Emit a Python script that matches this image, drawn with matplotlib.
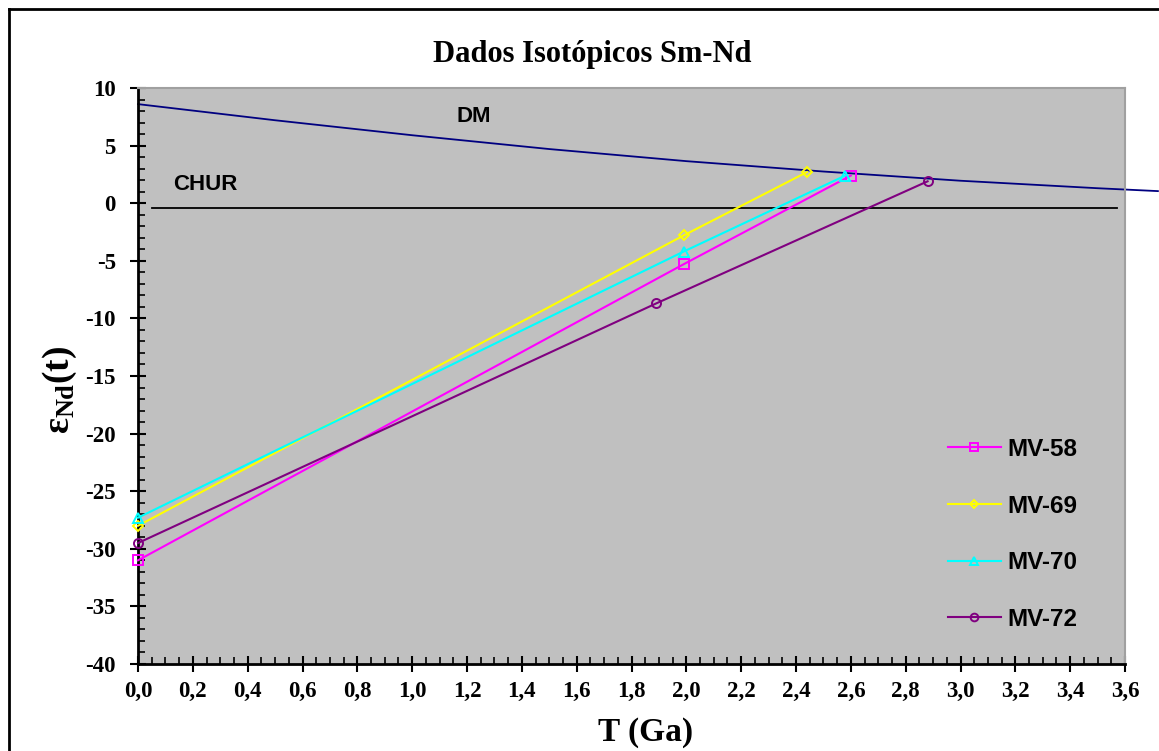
import matplotlib
matplotlib.use("Agg")
import matplotlib.pyplot as plt
from matplotlib.ticker import FixedLocator, MultipleLocator, FixedFormatter
from matplotlib.lines import Line2D

# ---- data ----
series_names = ["MV-58", "MV-69", "MV-70", "MV-72"]
mv58_t = [0.0, 1.99, 2.60]
mv58_e = [-31.0, -5.3, 2.4]
mv69_t = [0.0, 1.99, 2.44]
mv69_e = [-28.0, -2.8, 2.7]
mv70_t = [0.0, 1.99, 2.58]
mv70_e = [-27.3, -4.2, 2.4]
mv72_t = [0.0, 1.89, 2.88]
mv72_e = [-29.5, -8.7, 1.9]

dm_t = [0.0, 0.5, 1.0, 1.5, 2.0, 2.5, 3.0, 3.5, 3.72]
dm_e = [8.6, 7.2, 5.9, 4.7, 3.65, 2.75, 1.95, 1.3, 1.05]

chur_t = [0.05, 3.57]
chur_e = [-0.4, -0.4]

x_ticks = [0.0, 0.2, 0.4, 0.6, 0.8, 1.0, 1.2, 1.4, 1.6, 1.8, 2.0, 2.2, 2.4, 2.6, 2.8, 3.0, 3.2, 3.4, 3.6]
x_labels = ["0,0", "0,2", "0,4", "0,6", "0,8", "1,0", "1,2", "1,4", "1,6", "1,8",
            "2,0", "2,2", "2,4", "2,6", "2,8", "3,0", "3,2", "3,4", "3,6"]
y_ticks = [10, 5, 0, -5, -10, -15, -20, -25, -30, -35, -40]
y_labels = ["10", "5", "0", "-5", "-10", "-15", "-20", "-25", "-30", "-35", "-40"]

title = "Dados Isotópicos Sm-Nd"
xlabel = "T (Ga)"

# ---- styling ----
plt.rcParams['mathtext.fontset'] = 'custom'
plt.rcParams['mathtext.rm'] = 'Liberation Serif:bold'
plt.rcParams['mathtext.it'] = 'Liberation Serif:bold'
plt.rcParams['mathtext.bf'] = 'Liberation Serif:bold'
serif = 'Liberation Serif'
sans = 'Liberation Sans'

W, H = 1159, 751
fig = plt.figure(figsize=(W/100, H/100), dpi=100)
fig.patch.set_facecolor('white')
ax = fig.add_axes([138/W, 1-664/H, (1125-138)/W, (664-88)/H])
ax.set_facecolor('#C0C0C0')

ax.plot(dm_t, dm_e, color='#000080', lw=1.3, clip_on=False, zorder=2)
ax.plot(chur_t, chur_e, color='black', lw=1.3, zorder=2)

styles = [
    (mv58_t, mv58_e, '#FF00FF', 's', 6.5),
    (mv69_t, mv69_e, '#FFFF00', 'D', 5),
    (mv70_t, mv70_e, '#00FFFF', '^', 6.5),
    (mv72_t, mv72_e, '#800080', 'o', 6.5),
]
handles = []
for name, (t, e, c, m, ms) in zip(series_names, styles):
    ax.plot(t, e, color=c, lw=1.5, marker=m, ms=ms, mfc='none', mec=c, mew=1.4,
            clip_on=False, zorder=3)
    handles.append(Line2D([], [], color=c, lw=1.5, marker=m, ms=ms*0.85, mfc='none',
                          mec=c, mew=1.4))

ax.text(1.163, 7.5, "DM", fontfamily=sans, fontweight='bold', fontsize=16, va='center')
ax.text(0.128, 1.65, "CHUR", fontfamily=sans, fontweight='bold', fontsize=16, va='center')

ax.set_xlim(0, 3.6)
ax.set_ylim(-40, 10)
ax.xaxis.set_major_locator(FixedLocator(x_ticks))
ax.xaxis.set_major_formatter(FixedFormatter(x_labels))
ax.yaxis.set_major_locator(FixedLocator(y_ticks))
ax.yaxis.set_major_formatter(FixedFormatter(y_labels))
ax.xaxis.set_minor_locator(MultipleLocator(0.05))
ax.yaxis.set_minor_locator(MultipleLocator(1))
ax.tick_params(which='major', direction='inout', length=12, width=1.5, pad=6)
ax.tick_params(which='minor', direction='in', length=5, width=1.2)
ax.tick_params(axis='y', which='major', pad=10)
for lab in ax.get_xticklabels() + ax.get_yticklabels():
    lab.set_fontfamily(serif)
    lab.set_fontweight('bold')
    lab.set_fontsize(16.5)

for s in ['left', 'bottom']:
    ax.spines[s].set_linewidth(2)
    ax.spines[s].set_color('black')
for s in ['top', 'right']:
    ax.spines[s].set_linewidth(1.5)
    ax.spines[s].set_color('#A0A0A0')

leg = ax.legend(handles, series_names, loc='upper left',
                bbox_to_anchor=((948-138)/987, (664-438)/576), frameon=False,
                prop={'family': sans, 'weight': 'bold', 'size': 17.5},
                handlelength=2.18, handletextpad=0.25, labelspacing=1.38,
                borderpad=0, borderaxespad=0)

fig.text(592/W, 1-62/H, title, fontfamily=serif, fontweight='bold',
         fontsize=22, ha='center', va='baseline')
fig.text(646/W, 1-748/H, xlabel, fontfamily=serif, fontweight='bold',
         fontsize=24, ha='center', va='bottom')
fig.text(60/W, 1-390/H, r'$\varepsilon_{\mathrm{Nd}}\mathrm{(t)}$',
         fontsize=27, rotation=90, ha='center', va='center')

# outer frame (left and top edges)
fig.add_artist(Line2D([9/W, 9/W], [0, 1-9/H], transform=fig.transFigure,
                      color='black', lw=2))
fig.add_artist(Line2D([9/W, 1], [1-9/H, 1-9/H], transform=fig.transFigure,
                      color='black', lw=2))

fig.savefig("out.png", dpi=100)
